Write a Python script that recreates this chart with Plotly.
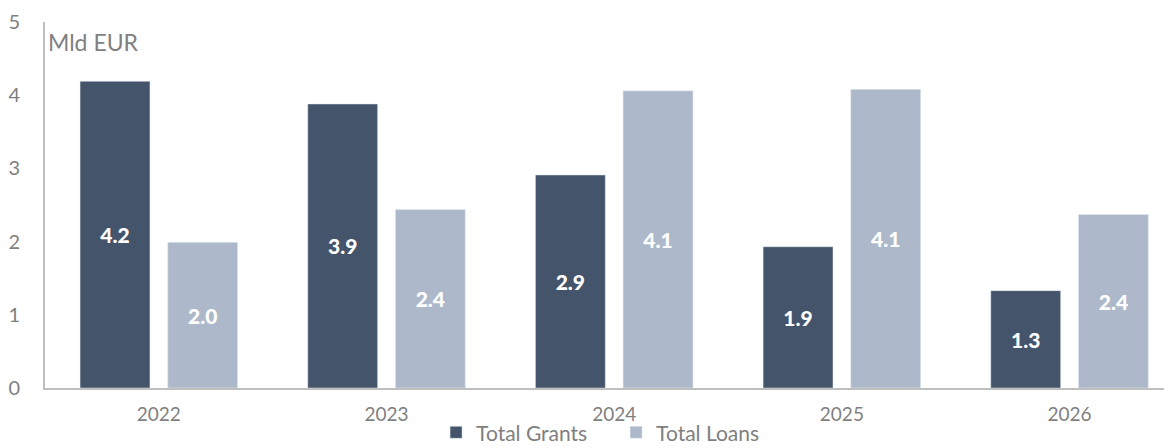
import plotly.graph_objects as go

# dados
anos = ["2022", "2023", "2024", "2025", "2026"]
grants = [4.19, 3.88, 2.91, 1.93, 1.33]
loans = [1.99, 2.44, 4.06, 4.08, 2.37]

cor_grants = "#44546A"
cor_loans = "#ADB9CA"
cinza = "#7F7F7F"

fig = go.Figure()
fig.add_trace(go.Bar(
    x=anos, y=grants, name="Total Grants", marker_color=cor_grants,
    width=0.307, offset=-0.346,
    text=[f"{v:.1f}" for v in grants], textposition="inside", insidetextanchor="middle",
    textfont=dict(color="white", size=21, family="Lato Black, Lato"),
))
fig.add_trace(go.Bar(
    x=anos, y=loans, name="Total Loans", marker_color=cor_loans,
    width=0.307, offset=0.039,
    text=[f"{v:.1f}" for v in loans], textposition="inside", insidetextanchor="middle",
    textfont=dict(color="white", size=21, family="Lato Black, Lato"),
))

# o body do html tem 8px de margem: as margens compensam esse deslocamento
fig.update_layout(
    width=1172, height=448,
    margin=dict(l=37, r=8, t=14, b=68, autoexpand=False),
    plot_bgcolor="white", paper_bgcolor="white",
    font=dict(family="Lato", color=cinza, size=19),
    barmode="overlay",
    legend=dict(orientation="h", x=0.347, xanchor="left", y=-0.122, yanchor="middle",
                font=dict(size=21, color=cinza), traceorder="normal",
                bgcolor="rgba(0,0,0,0)",
                itemwidth=30, entrywidthmode="pixels", entrywidth=135),
    annotations=[dict(text="Mld EUR", xref="paper", yref="paper", x=0.0, y=0.945,
                      xanchor="left", yanchor="middle", showarrow=False,
                      font=dict(size=23, color=cinza), xshift=1)],
)
fig.update_xaxes(range=[-0.5, 4.45], showline=True, linecolor="#BFBFBF", linewidth=2,
                 showgrid=False, ticks="", tickfont=dict(size=19, color=cinza),
                 ticklabelstandoff=8, automargin=False)
fig.update_yaxes(range=[0, 5], dtick=1, showline=True, linecolor="#BFBFBF", linewidth=2,
                 showgrid=False, zeroline=False, ticks="", ticklabelstandoff=19,
                 tickfont=dict(size=20, color=cinza), automargin=False)

fig.write_html("out.html")
